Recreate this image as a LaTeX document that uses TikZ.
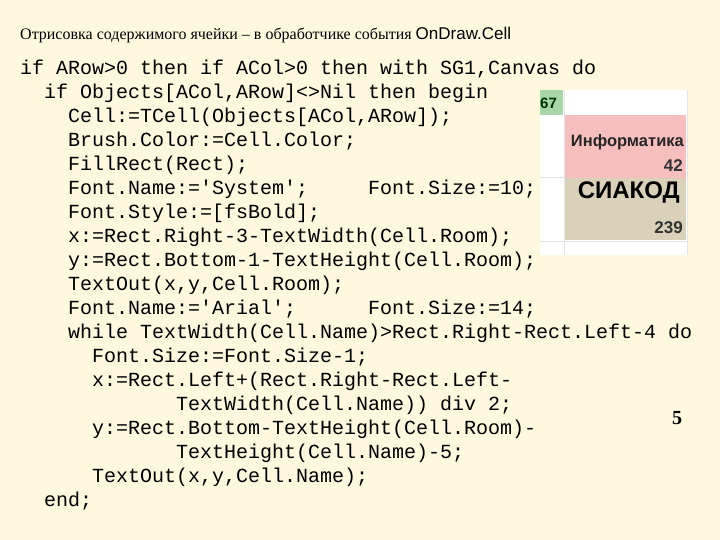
\documentclass[tikz,border=0pt]{standalone}
\usepackage{fontspec}
\setmainfont{Liberation Serif}
\setmonofont{Liberation Mono}
\newfontfamily\arialf{Liberation Sans}
\definecolor{bg}{HTML}{FDF8DE}
\definecolor{grn}{HTML}{A9D6A9}
\definecolor{pnk}{HTML}{F7BEBE}
\definecolor{bge}{HTML}{D9D1B9}
\definecolor{grd}{HTML}{E4E4E4}
\begin{document}
\begin{tikzpicture}[x=1pt,y=-1pt,
  code/.style={anchor=west,inner sep=0pt,font=\fontsize{20}{20}\ttfamily},
  num/.style={anchor=east,inner sep=0pt,font=\arialf\bfseries\fontsize{17}{17}\selectfont,text=black!80}]
\fill[bg] (0,0) rectangle (720,540);
\useasboundingbox (0,0) rectangle (720,540);
% cell picture
\fill[white] (540,90) rectangle (688,255);
\fill[grn] (540,90) rectangle (563,115);
\fill[pnk] (565,115) rectangle (686,178);
\fill[bge] (565,178) rectangle (686,240);
\draw[grd,line width=1pt] (564,90) -- (564,255) (687,90) -- (687,255)
  (540,178) -- (564,178) (540,241) -- (688,241);
\node[anchor=west,inner sep=0pt,font=\arialf\bfseries\fontsize{15}{15}\selectfont,text=black!80!green] (g) at (540,103) {67};
\node[anchor=east,inner sep=0pt,font=\arialf\bfseries\fontsize{16.5}{16.5}\selectfont,text=black!85] (inf) at (684,142) {Информатика};
\node[num] (n42) at (683,166) {42};
\node[anchor=east,inner sep=0pt,font=\arialf\bfseries\fontsize{24}{24}\selectfont] (sia) at (680,193) {СИАКОД};
\node[num] (n239) at (683,228) {239};
% title
\node[anchor=west,inner sep=0pt,font=\fontsize{16}{16}\selectfont] (t) at (20,35) {Отрисовка содержимого ячейки – в обработчике события {\arialf\fontsize{17}{17}\selectfont OnDraw.Cell}};
\node[inner sep=0pt,font=\bfseries\fontsize{20}{20}\selectfont] (p) at (677,418) {5};
% code
\node[code] (l1) at (20,69) {if ARow>0 then if ACol>0 then with SG1,Canvas do};
\node[code] (l2) at (44,93) {if Objects[ACol,ARow]<>Nil then begin};
\node[code] (l3) at (68,117) {Cell:=TCell(Objects[ACol,ARow]);};
\node[code] (l4) at (68,141) {Brush.Color:=Cell.Color;};
\node[code] (l5) at (68,165) {FillRect(Rect);};
\node[code] (l6) at (68,189) {Font.Name:='System';\ \ \ \ \ Font.Size:=10;};
\node[code] (l7) at (68,213) {Font.Style:=[fsBold];};
\node[code] (l8) at (68,237) {x:=Rect.Right-3-TextWidth(Cell.Room);};
\node[code] (l9) at (68,261) {y:=Rect.Bottom-1-TextHeight(Cell.Room);};
\node[code] (l10) at (68,285) {TextOut(x,y,Cell.Room);};
\node[code] (l11) at (68,309) {Font.Name:='Arial';\ \ \ \ \ \ Font.Size:=14;};
\node[code] (l12) at (68,333) {while TextWidth(Cell.Name)>Rect.Right-Rect.Left-4 do};
\node[code] (l13) at (92,357) {Font.Size:=Font.Size-1;};
\node[code] (l14) at (92,381) {x:=Rect.Left+(Rect.Right-Rect.Left-};
\node[code] (l15) at (176,405) {TextWidth(Cell.Name)) div 2;};
\node[code] (l16) at (92,429) {y:=Rect.Bottom-TextHeight(Cell.Room)-};
\node[code] (l17) at (176,453) {TextHeight(Cell.Name)-5;};
\node[code] (l18) at (92,477) {TextOut(x,y,Cell.Name);};
\node[code] (l19) at (44,501) {end;};
\end{tikzpicture}
\end{document}
